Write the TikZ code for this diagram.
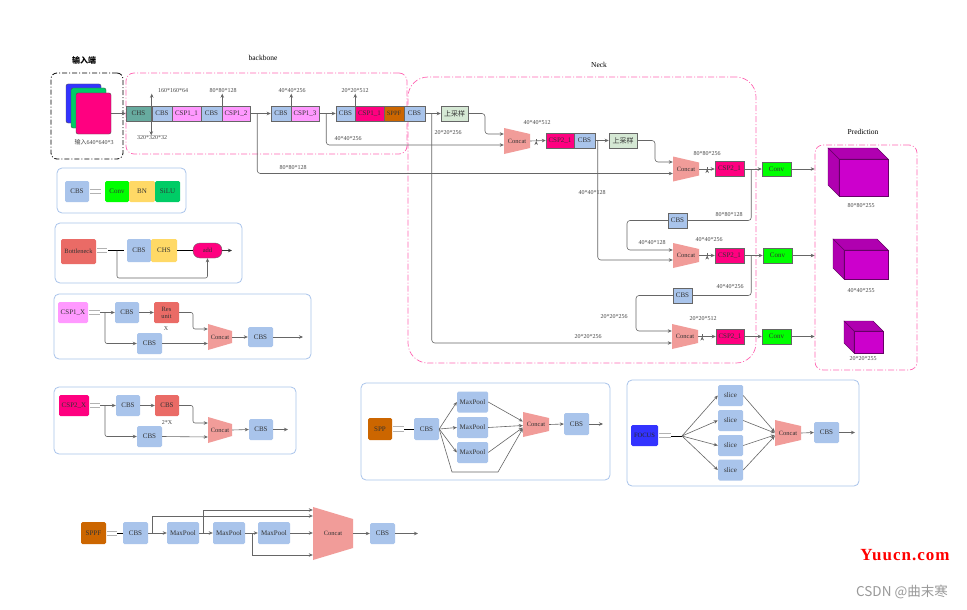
\documentclass[tikz,border=0pt]{standalone}
\usepackage{fontspec}
\setmainfont{Liberation Serif}
\newfontfamily\cjk{Noto Sans CJK SC}
\newfontfamily\wmfont[LetterSpace=6]{Liberation Serif}
\usetikzlibrary{arrows.meta,calc}
\definecolor{cbs}{HTML}{A9C4EB}
\definecolor{chs}{HTML}{67AB9F}
\definecolor{cspa}{HTML}{FF99FF}
\definecolor{cspb}{HTML}{FF0080}
\definecolor{sppf}{HTML}{CC6600}
\definecolor{upg}{HTML}{D5E8D4}
\definecolor{cat}{HTML}{F19C99}
\definecolor{convg}{HTML}{00FF00}
\definecolor{bny}{HTML}{FFD966}
\definecolor{silu}{HTML}{00CC66}
\definecolor{bneck}{HTML}{EA6B66}
\definecolor{focus}{HTML}{3333FF}
\definecolor{cubef}{HTML}{CC00CC}
\definecolor{cubes}{HTML}{B000B0}
\definecolor{cubel}{HTML}{660066}
\definecolor{pinkd}{HTML}{FF66B3}
\definecolor{lgbd}{HTML}{A9C4EB}
\definecolor{lne}{HTML}{666666}
\definecolor{dimc}{HTML}{444444}
\definecolor{txt}{HTML}{333333}
\definecolor{inblue}{HTML}{3333FF}
\definecolor{ingreen}{HTML}{00CC66}
\tikzset{
 box/.style={draw=lne, line width=0.5pt, inner sep=0pt, minimum height=15pt, font=\fontsize{7}{8}\selectfont, text=txt},
 lgbk/.style={draw=none, rounded corners=1.5pt, inner sep=0pt, font=\fontsize{7}{8}\selectfont, text=txt},
 ln/.style={draw=lne, line width=0.6pt},
 arr/.style={ln, -{Stealth[length=4pt,width=3.5pt]}},
 dim/.style={font=\fontsize{6}{7}\selectfont, text=dimc, inner sep=0.5pt},
 ttl/.style={font=\fontsize{7.5}{9}\selectfont, text=black, inner sep=0pt},
 pinkbox/.style={draw=pinkd, line width=0.7pt, dash pattern=on 6pt off 2pt on 1pt off 2pt},
 panel/.style={draw=lgbd, line width=0.8pt, rounded corners=5pt, fill=white, inner sep=0pt},
 cnode/.style={inner sep=0pt, font=\fontsize{6.5}{8}\selectfont, text=txt},
 eqs/.style={draw=gray!60, line width=0.9pt},
 blk/.style={draw=black, line width=0.8pt},
}
\newcommand\mkconcat[6]{%
  \fill[cat] ({#2-#4/2},{#3-#5/2}) -- ({#2+#4/2},{#3-#5/2+#6}) -- ({#2+#4/2},{#3+#5/2-#6}) -- ({#2-#4/2},{#3+#5/2}) -- cycle;
  \node[cnode, minimum width=#4pt, minimum height=#5pt] (#1) at (#2,#3) {Concat};
}
\newcommand\mkcube[5]{%
  \filldraw[fill=cubes, draw=cubel, line width=0.4pt] (#1,#2) -- ({#1-#5},{#2-#5}) -- ({#3-#5},{#2-#5}) -- (#3,#2) -- cycle;
  \filldraw[fill=cubes, draw=cubel, line width=0.4pt] (#1,#2) -- ({#1-#5},{#2-#5}) -- ({#1-#5},{#4-#5}) -- (#1,#4) -- cycle;
  \filldraw[fill=cubef, draw=cubel, line width=0.4pt] (#1,#2) rectangle (#3,#4);
}
\begin{document}
\begin{tikzpicture}[x=1pt,y=-1pt]
\useasboundingbox (0,0) rectangle (967,610);
\fill[white] (0,0) rectangle (967,610);

% ---------- frames ----------
\node[ttl, font=\cjk\bfseries\fontsize{8}{9}\selectfont] (tin) at (84,60) {输入端};
\node[draw=black, line width=0.8pt, dash pattern=on 5pt off 2pt on 1pt off 2pt, rounded corners=6pt, minimum width=72pt, minimum height=86pt, inner sep=0pt] (inbox) at (87,116) {};
\node[ttl] (tbb) at (263,58) {backbone};
\node[pinkbox, rounded corners=8pt, minimum width=281pt, minimum height=81pt, inner sep=0pt] (bbox) at (266.5,113.5) {};
\node[ttl] (tneck) at (599,65) {Neck};
\node[pinkbox, rounded corners=20pt, minimum width=348pt, minimum height=286pt, inner sep=0pt] (nbox) at (582,220) {};
\node[ttl] (tpred) at (863,132) {Prediction};
\node[pinkbox, rounded corners=8pt, minimum width=102pt, minimum height=225pt, inner sep=0pt] (predbox) at (866,257.5) {};

% ---------- input ----------
\node[draw=black!70, fill=inblue, rounded corners=2pt, minimum width=35pt, minimum height=39pt, inner sep=0pt] (inB) at (83.5,103.5) {};
\node[draw=black!70, fill=ingreen, rounded corners=2pt, minimum width=35pt, minimum height=40pt, inner sep=0pt] (inG) at (88.5,108) {};
\node[draw=black!70, fill=cspb, rounded corners=2pt, minimum width=35pt, minimum height=41pt, inner sep=0pt] (inM) at (93.5,113.5) {};
\node[dim] (lin) at (94,142) {{\cjk 输入}640*640*3};

% ---------- backbone row ----------
\node[box, fill=chs, minimum width=25pt] (chs) at (138.5,113.5) {CHS};
\node[box, fill=cbs, minimum width=20pt] (b2) at (162,113.5) {CBS};
\node[box, fill=cspa, minimum width=29pt] (csp11) at (186.5,113.5) {CSP1\_1};
\node[box, fill=cbs, minimum width=21pt] (b3) at (211.5,113.5) {CBS};
\node[box, fill=cspa, minimum width=28pt] (csp12) at (236,113.5) {CSP1\_2};
\node[box, fill=cbs, minimum width=20pt] (b4) at (281,113.5) {CBS};
\node[box, fill=cspa, minimum width=28pt] (csp13) at (305,113.5) {CSP1\_3};
\node[box, fill=cbs, minimum width=19pt] (b5) at (345.5,113.5) {CBS};
\node[box, fill=cspb, minimum width=29pt] (csp1b) at (369.5,113.5) {CSP1\_1};
\node[box, fill=sppf, minimum width=20pt, font=\fontsize{6.5}{8}\selectfont] (sppfb) at (394,113.5) {SPPF};
\node[box, fill=cbs, minimum width=21pt] (b6) at (414.5,113.5) {CBS};
\node[box, fill=upg, minimum width=27pt, font=\cjk\fontsize{7}{8}\selectfont] (up1) at (454.5,113.5) {上采样};

\draw[arr] (inM.east) -- (chs.west);
\draw[arr] (csp12.east) -- (b4.west);
\draw[arr] (csp13.east) -- (b5.west);
\draw[arr] (b6.east) -- (up1.west);

\node[dim] (l160) at (173,91) {160*160*64};
\node[dim] (l80a) at (223,91) {80*80*128};
\node[dim] (l40a) at (292,91) {40*40*256};
\node[dim] (l20a) at (355,91) {20*20*512};
\node[dim] (l320) at (152,138) {320*320*32};
\draw[arr] (b2.north west) -- (b2.north west |- l160.south);
\draw[arr] (b3.north east) -- (b3.north east |- l80a.south);
\draw[arr] (b4.north east) -- (b4.north east |- l40a.south);
\draw[arr] (b5.north east) -- (b5.north east |- l20a.south);
\draw[arr] (chs.south east) -- (chs.south east |- l320.north);

% ---------- neck ----------
\mkconcat{c1}{517}{141}{26}{26}{6}
\mkconcat{c2}{686}{169}{26}{25}{6}
\mkconcat{c3}{686}{255.5}{26}{25}{6}
\mkconcat{c4}{685}{336.5}{26}{25}{6}

\node[box, fill=cspb, minimum width=28pt] (n1) at (560,140.5) {CSP2\_1};
\node[box, fill=cbs, minimum width=21pt] (n2) at (584.5,140.5) {CBS};
\node[box, fill=upg, minimum width=28pt, font=\cjk\fontsize{7}{8}\selectfont] (up2) at (623,140.5) {上采样};
\node[box, fill=cspb, minimum width=29pt] (n3) at (729.5,169) {CSP2\_1};
\node[box, fill=cbs, minimum width=19pt] (n4) at (677.5,220.5) {CBS};
\node[box, fill=cspb, minimum width=29pt] (n5) at (729.5,255.5) {CSP2\_1};
\node[box, fill=cbs, minimum width=19pt] (n6) at (682.5,295.5) {CBS};
\node[box, fill=cspb, minimum width=28pt] (n7) at (730,336.5) {CSP2\_1};
\node[box, fill=convg, minimum width=29pt, minimum height=14pt] (conv1) at (776.5,169) {Conv};
\node[box, fill=convg, minimum width=29pt, minimum height=15pt] (conv2) at (777.5,255.5) {Conv};
\node[box, fill=convg, minimum width=29pt, minimum height=15pt] (conv3) at (776.5,336.5) {Conv};

% backbone -> neck
\draw[arr, rounded corners=3pt] ($(csp13.east)+(7,0)$) |- ($(c1.west)+(0,4)$);
\draw[arr, rounded corners=3pt] ($(csp12.east)+(7,0)$) |- ($(c2.west)+(0,4.5)$);
\draw[arr, rounded corners=3pt] ($(b6.east)+(6.5,0)$) |- ($(c4.west)+(0,6.5)$);
\node[dim] (l40b) at (348,139) {40*40*256};
\node[dim] (l80b) at (293,168) {80*80*128};
\node[dim] (l20b) at (448,133) {20*20*256};
\node[dim] (l20c) at (588,337) {20*20*256};

\draw[arr, rounded corners=3pt] (up1.east) -- (485,113.5) -- (485,134) -- ($(c1.west)+(0,-7)$);
\draw[arr] (c1.east) -- (n1.west);
\node[dim] (l512a) at (537,123) {40*40*512};
\draw[arr] ($(c1.east)+(6,0)$) -- ($(c1.east)+(6,0)$ |- l512a.south);
\draw[arr] (n2.east) -- (up2.west);
\draw[arr, rounded corners=3pt] ($(n2.east)+(2.5,0)$) |- ($(c3.west)+(0,4.5)$);
\node[dim] (l40c) at (592,193) {40*40*128};
\draw[arr, rounded corners=3pt] (up2.east) -- (655,140.5) -- (655,162) -- ($(c2.west)+(0,-7)$);

\draw[arr] (c2.east) -- (n3.west);
\node[dim] (l256a) at (707,154) {80*80*256};
\draw[arr] ($(c2.east)+(8,0)$) -- ($(c2.east)+(8,0)$ |- l256a.south);
\draw[arr] (n3.east) -- (conv1.west);
\draw[ln, rounded corners=3pt] ($(n3.east)+(7,0)$) |- (n4.east);
\node[dim] (l80c) at (729,215) {80*80*128};
\draw[arr, rounded corners=3pt] (n4.west) -- (627,220.5) -- (627,250) -- ($(c3.west)+(0,-5.5)$);
\node[dim] (l40d) at (652,243) {40*40*128};

\draw[arr] (c3.east) -- (n5.west);
\node[dim] (l256b) at (709,240) {40*40*256};
\draw[arr] ($(c3.east)+(8,0)$) -- ($(c3.east)+(8,0)$ |- l256b.south);
\draw[arr] (n5.east) -- (conv2.west);
\draw[ln, rounded corners=3pt] ($(n5.east)+(7,0)$) |- (n6.east);
\node[dim] (l256c) at (730,287) {40*40*256};
\draw[arr, rounded corners=3pt] (n6.west) -- (636,295.5) -- (636,331) -- ($(c4.west)+(0,-5.5)$);
\node[dim] (l20d) at (614,317) {20*20*256};

\draw[arr] (c4.east) -- (n7.west);
\node[dim] (l512b) at (703,319) {20*20*512};
\draw[arr] ($(c4.east)+(4,0)$) -- ($(c4.east)+(4,0)$ |- l512b.south);
\draw[arr] (n7.east) -- (conv3.west);

\draw[arr] (conv1.east) -- (predbox.west |- conv1.east);
\draw[arr] (conv2.east) -- (predbox.west |- conv2.east);
\draw[arr] (conv3.east) -- (predbox.west |- conv3.east);

% ---------- prediction ----------
\mkcube{839}{159}{888}{196}{11}
\mkcube{844}{250}{888}{279}{11}
\mkcube{854}{331}{883}{353}{10}
\node[dim] (p1) at (861,206) {80*80*255};
\node[dim] (p2) at (861,291) {40*40*255};
\node[dim] (p3) at (863,359) {20*20*255};

% ---------- legend 1: CBS ----------
\node[panel, minimum width=129pt, minimum height=45pt] (pan1) at (121.5,190.5) {};
\node[lgbk, fill=cbs, minimum width=24pt, minimum height=21pt] (e_cbs) at (77,191.5) {CBS};
\draw[eqs] (90,189) -- (101,189) (90,193.5) -- (101,193.5);
\node[lgbk, fill=convg, minimum width=24pt, minimum height=21pt] (e_conv) at (117,191.5) {Conv};
\node[lgbk, fill=bny, minimum width=26pt, minimum height=21pt] (e_bn) at (142,191.5) {BN};
\node[lgbk, fill=silu, minimum width=25pt, minimum height=21pt] (e_silu) at (167.5,191.5) {SiLU};

% ---------- legend 2: Bottleneck ----------
\node[panel, minimum width=187pt, minimum height=60pt] (pan2) at (148.5,253) {};
\node[lgbk, fill=bneck, minimum width=35pt, minimum height=25pt, font=\fontsize{6.5}{8}\selectfont] (bn) at (78.5,251.5) {Bottleneck};
\draw[eqs] (97,248.5) -- (107,248.5) (97,252.5) -- (107,252.5);
\node[lgbk, fill=cbs, minimum width=24pt, minimum height=23pt] (bn_cbs) at (139,250.5) {CBS};
\node[lgbk, fill=bny, minimum width=26pt, minimum height=23pt] (bn_chs) at (164,250.5) {CHS};
\node[draw=lne, fill=cspb, rounded corners=7pt, minimum width=29pt, minimum height=15pt, inner sep=0pt, font=\fontsize{6.5}{8}\selectfont, text=txt] (add) at (207.5,250.5) {add};
\coordinate (bn_in) at (108,250.5);
\coordinate (bn_out) at (232,250.5);
\draw[blk] (bn_in) -- ($(bn_cbs.west)+(-3,0)$);
\draw[blk] (bn_chs.east) -- (add.west);
\draw[arr, draw=black!80] (add.east) -- (bn_out);
\draw[arr, rounded corners=2pt] (117,250.5) -- (117,278) -- (207.5,278) -- (add.south);

% ---------- legend 3: CSP1_X ----------
\node[panel, minimum width=257pt, minimum height=65pt] (pan3) at (182.5,326.5) {};
\node[lgbk, fill=cspa, minimum width=30pt, minimum height=21pt] (x1) at (73,312.5) {CSP1\_X};
\draw[eqs] (89,310.5) -- (100,310.5) (89,314.5) -- (100,314.5);
\coordinate (x1o) at (100,312.5);
\node[lgbk, fill=cbs, minimum width=24pt, minimum height=21pt] (x1a) at (127,312.5) {CBS};
\node[lgbk, fill=bneck, minimum width=25pt, minimum height=21pt, align=center, font=\fontsize{6.5}{7}\selectfont] (x1r) at (166.5,312.5) {Res\\unit};
\node[dim] (x1x) at (166,329) {X};
\node[lgbk, fill=cbs, minimum width=25pt, minimum height=21pt] (x1b) at (149.5,343.5) {CBS};
\mkconcat{x1c}{220}{337}{24}{26}{7}
\node[lgbk, fill=cbs, minimum width=25pt, minimum height=20pt] (x1d) at (260.5,337) {CBS};
\coordinate (x1e) at (303,337);
\draw[arr] (x1o) -- (x1a.west);
\draw[arr] (x1a.east) -- (x1r.west);
\draw[arr, rounded corners=2pt] (x1r.east) -- (193,312.5) -- (193,329) -- ($(x1c.west)+(0,-8)$);
\draw[arr, rounded corners=2pt] (105,312.5) |- (x1b.west);
\draw[arr] (x1b.east) -- ($(x1c.west)+(0,6.5)$);
\draw[arr] (x1c.east) -- (x1d.west);
\draw[arr] (x1d.east) -- (x1e);

% ---------- legend 4: CSP2_X ----------
\node[panel, minimum width=242pt, minimum height=67pt] (pan4) at (175,420.5) {};
\node[lgbk, fill=cspb, minimum width=30pt, minimum height=21pt] (x2) at (74,405.5) {CSP2\_X};
\draw[eqs] (90,403) -- (100,403) (90,407) -- (100,407);
\coordinate (x2o) at (100,405.5);
\node[lgbk, fill=cbs, minimum width=24pt, minimum height=21pt] (x2a) at (128,405.5) {CBS};
\node[lgbk, fill=bneck, minimum width=24pt, minimum height=21pt] (x2r) at (167,405.5) {CBS};
\node[dim] (x2x) at (167,423) {2*X};
\node[lgbk, fill=cbs, minimum width=25pt, minimum height=21pt] (x2b) at (149.5,436.5) {CBS};
\mkconcat{x2c}{220}{430}{24}{26}{7}
\node[lgbk, fill=cbs, minimum width=24pt, minimum height=21pt] (x2d) at (261,429.5) {CBS};
\coordinate (x2e) at (288,429.5);
\draw[arr] (x2o) -- (x2a.west);
\draw[arr] (x2a.east) -- (x2r.west);
\draw[arr, rounded corners=2pt] (x2r.east) -- (193,405.5) -- (193,423) -- ($(x2c.west)+(0,-7)$);
\draw[arr, rounded corners=2pt] (105,405.5) |- (x2b.west);
\draw[arr] (x2b.east) -- ($(x2c.west)+(0,7)$);
\draw[arr] (x2c.east) -- (x2d.west);
\draw[arr] (x2d.east) -- (x2e);

% ---------- SPP ----------
\node[panel, minimum width=249pt, minimum height=97pt] (pan5) at (485.5,431.5) {};
\node[lgbk, fill=sppf, minimum width=24pt, minimum height=22pt] (spp) at (380,429) {SPP};
\draw[eqs] (393,426.5) -- (404,426.5) (393,431.5) -- (404,431.5);
\coordinate (sppo) at (404,429);
\node[lgbk, fill=cbs, minimum width=25pt, minimum height=22pt] (s_cbs) at (426.5,429) {CBS};
\node[lgbk, fill=cbs, minimum width=31pt, minimum height=21pt] (mp1) at (472.5,402) {MaxPool};
\node[lgbk, fill=cbs, minimum width=31pt, minimum height=21pt] (mp2) at (472.5,427.5) {MaxPool};
\node[lgbk, fill=cbs, minimum width=31pt, minimum height=21pt] (mp3) at (472.5,452.5) {MaxPool};
\mkconcat{s_cat}{536}{424.5}{26}{25}{6}
\node[lgbk, fill=cbs, minimum width=25pt, minimum height=22pt] (s_out) at (576.5,424) {CBS};
\coordinate (s_end) at (603,424);
\draw[blk] (sppo) -- (s_cbs.west);
\draw[arr] (s_cbs.east) -- (mp1.west);
\draw[arr] (s_cbs.east) -- (mp2.west);
\draw[arr] (s_cbs.east) -- (mp3.west);
\draw[arr] (s_cbs.east) -- (452,472) -- (498,472) -- ($(s_cat.west)+(0,4)$);
\draw[arr] (mp1.east) -- ($(s_cat.west)+(0,-3)$);
\draw[arr] (mp2.east) -- ($(s_cat.west)+(0,1)$);
\draw[arr] (mp3.east) -- ($(s_cat.west)+(0,3)$);
\draw[arr] (s_cat.east) -- (s_out.west);
\draw[arr] (s_out.east) -- (s_end);

% ---------- FOCUS ----------
\node[panel, minimum width=232pt, minimum height=106pt] (pan6) at (743,433) {};
\node[lgbk, fill=focus, minimum width=27pt, minimum height=21pt, font=\fontsize{6.5}{8}\selectfont, text=black!85] (foc) at (644.5,435.5) {FOCUS};
\draw[eqs] (659,433) -- (671,433) (659,437.5) -- (671,437.5);
\coordinate (fhub) at (682,436);
\draw[blk] (671,436) -- (fhub);
\node[lgbk, fill=cbs, minimum width=25pt, minimum height=21pt] (sl1) at (730.5,395.5) {slice};
\node[lgbk, fill=cbs, minimum width=25pt, minimum height=21pt] (sl2) at (730.5,420.5) {slice};
\node[lgbk, fill=cbs, minimum width=25pt, minimum height=21pt] (sl3) at (730.5,445.5) {slice};
\node[lgbk, fill=cbs, minimum width=25pt, minimum height=21pt] (sl4) at (730.5,470) {slice};
\mkconcat{f_cat}{788}{433}{26}{26}{6}
\node[lgbk, fill=cbs, minimum width=25pt, minimum height=21pt] (f_out) at (826.5,432.5) {CBS};
\coordinate (f_end) at (855,432.5);
\draw[arr] (fhub) -- (sl1.west);
\draw[arr] (fhub) -- (sl2.west);
\draw[arr] (fhub) -- (sl3.west);
\draw[arr] (fhub) -- (sl4.west);
\draw[arr] (sl1.east) -- ($(f_cat.west)+(0,-1)$);
\draw[arr] (sl2.east) -- ($(f_cat.west)+(0,0)$);
\draw[arr] (sl3.east) -- ($(f_cat.west)+(0,2)$);
\draw[arr] (sl4.east) -- ($(f_cat.west)+(0,3)$);
\draw[arr] (f_cat.east) -- (f_out.west);
\draw[arr] (f_out.east) -- (f_end);

% ---------- SPPF ----------
\node[lgbk, fill=sppf, minimum width=25pt, minimum height=22pt] (sf) at (93.5,533) {SPPF};
\draw[eqs] (107,531) -- (117,531) (107,535) -- (117,535);
\coordinate (sfo) at (117,533);
\node[lgbk, fill=cbs, minimum width=25pt, minimum height=22pt] (sf_cbs) at (135.5,533) {CBS};
\node[lgbk, fill=cbs, minimum width=32pt, minimum height=22pt] (sm1) at (183,533) {MaxPool};
\node[lgbk, fill=cbs, minimum width=32pt, minimum height=22pt] (sm2) at (229,533) {MaxPool};
\node[lgbk, fill=cbs, minimum width=32pt, minimum height=22pt] (sm3) at (274,533) {MaxPool};
\mkconcat{sf_cat}{333}{533.5}{40}{53}{12}
\node[lgbk, fill=cbs, minimum width=25pt, minimum height=21pt] (sf_out) at (382.5,533.5) {CBS};
\coordinate (sf_end) at (418,533.5);
\draw[blk] (sfo) -- (sf_cbs.west);
\draw[arr] (sf_cbs.east) -- (sm1.west);
\draw[arr] (sm1.east) -- (sm2.west);
\draw[arr] (sm2.east) -- (sm3.west);
\draw[arr] (sm3.east) -- ($(sf_cat.west)+(0,-0.5)$);
\draw[arr] ($(sf_cbs.east)+(4,0)$) |- ($(sf_cat.west)+(0,-17.5)$);
\draw[arr] ($(sm1.east)+(4,0)$) |- ($(sf_cat.west)+(0,-23.5)$);
\draw[arr] ($(sm2.east)+(7,0)$) |- ($(sf_cat.west)+(0,21.5)$);
\draw[arr] (sf_cat.east) -- (sf_out.west);
\draw[arr] (sf_out.east) -- (sf_end);

% ---------- watermarks ----------
\node[inner sep=0pt, text=red, font=\wmfont\bfseries\fontsize{17}{18}\selectfont] (wm1) at (905,555) {Yuucn.com};
\node[inner sep=0pt, text=gray!80, font=\cjk\fontsize{13.5}{14}\selectfont] (wm2) at (902,592) {CSDN @曲末寒};
\end{tikzpicture}
\end{document}
